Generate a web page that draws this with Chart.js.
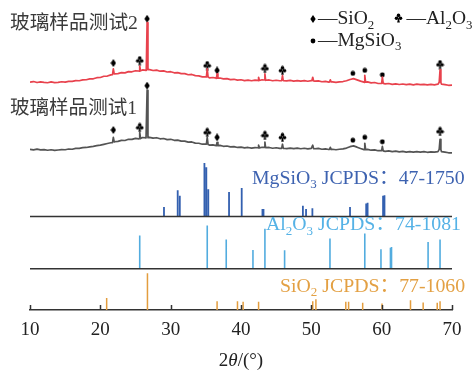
<!DOCTYPE html>
<html><head><meta charset="utf-8">
<style>html,body{margin:0;padding:0;background:#fff;}#wrap{width:474px;height:372px;}</style>
<script src="https://cdn.jsdelivr.net/npm/chart.js@4.4.1/dist/chart.umd.min.js"></script>
</head><body><div id="wrap"><canvas id="c" width="474" height="372"></canvas></div>
<script>
// ---------- data ----------
const tickValues = [10, 20, 30, 40, 50, 60, 70];
const tickLabels = ['10', '20', '30', '40', '50', '60', '70'];
const gridStart = 10, gridStep = 0.5; // 2θ sampling of background arrays (10 … 70)

// background intensity (a.u.) of sample 2 (red) every 0.5°
const redBackground = [
 13.5,14.2,13.2,13.9,13.4,13.0,13.8,13.1,13.3,14.0,13.6,14.4,14.3,15.1,15.0,15.9,16.0,16.9,17.0,18.1,
 18.3,19.6,19.8,21.0,22.0,22.3,23.2,23.0,24.3,24.1,25.2,24.8,26.0,25.6,26.3,25.4,25.8,24.7,25.0,23.9,
 24.2,23.1,23.3,22.2,22.3,21.1,21.4,20.2,20.0,19.0,19.1,18.0,18.3,17.4,17.8,16.9,17.2,16.2,16.5,15.7,
 16.0,15.2,15.7,15.0,15.6,15.2,16.0,15.4,15.8,15.0,15.5,15.0,15.4,14.8,15.3,14.7,15.2,14.6,15.1,14.5,
 15.1,14.6,14.9,14.0,14.3,13.6,13.9,13.4,13.9,14.2,15.0,16.3,17.2,15.9,14.6,13.4,13.8,12.8,13.2,12.2,
 12.5,11.8,12.2,11.4,11.9,11.2,11.7,11.0,11.5,10.9,11.5,11.0,11.4,10.8,11.4,10.9,11.5,11.6,11.0,10.4,
 10.6];
// background intensity of sample 1 (gray)
const grayBackground = [
 13.2,12.8,13.5,12.7,13.0,12.4,12.9,12.2,12.6,13.0,12.9,13.6,13.4,14.3,14.2,15.0,15.2,15.8,16.3,17.0,
 17.6,18.4,19.2,20.0,21.0,21.4,22.4,22.3,23.5,23.4,24.5,24.1,25.3,24.9,25.5,24.7,25.1,24.0,24.3,23.2,
 23.5,22.5,22.6,21.6,21.7,20.6,20.8,19.6,19.5,18.5,18.6,17.6,17.9,17.0,17.3,16.4,16.7,15.8,16.0,15.2,
 15.5,14.8,15.2,14.5,15.1,14.7,15.4,14.9,15.2,14.4,14.9,14.3,14.7,14.1,14.6,14.0,14.5,13.9,14.4,13.8,
 14.3,13.9,14.2,13.4,13.7,13.1,13.4,12.9,13.4,13.8,14.6,16.0,16.8,15.5,14.1,13.0,13.3,12.4,12.8,11.9,
 12.1,11.3,11.7,10.9,11.4,10.7,11.2,10.5,11.0,10.4,10.9,10.5,10.9,10.3,10.8,10.4,11.0,11.0,10.4,9.8,
 9.6];
// sharp diffraction peaks [2θ, intensity]
const redPeaks = [
 [21.73,21.2],[21.85,27.0],[21.97,21.9],
 [25.48,24.9],[25.60,30.0],[25.72,25.1],
 [26.53,25.8],[26.65,74.0],[26.77,26.2],
 [35.08,18.9],[35.20,27.0],[35.32,18.7],
 [36.48,17.6],[36.60,22.0],[36.72,17.6],
 [42.38,15.4],[42.50,18.5],[42.62,15.3],
 [43.28,15.8],[43.40,22.0],[43.52,15.5],
 [45.78,15.1],[45.90,20.3],[46.02,15.2],
 [50.08,15.0],[50.20,18.5],[50.32,14.9],
 [52.58,13.8],[52.70,16.0],[52.82,13.8],
 [57.48,13.6],[57.60,20.5],[57.72,13.5],
 [59.98,12.4],[60.10,18.7],[60.22,12.3],
 [68.18,13.5],[68.30,26.0],[68.42,13.3]];
const grayPeaks = [
 [21.73,20.0],[21.85,25.5],[21.97,20.8],
 [25.48,24.0],[25.60,30.5],[25.72,24.2],
 [26.53,24.9],[26.65,73.3],[26.77,25.2],
 [35.08,18.5],[35.20,25.5],[35.32,18.2],
 [36.48,17.1],[36.60,20.5],[36.72,17.0],
 [42.38,14.9],[42.50,17.5],[42.62,14.8],
 [43.28,15.2],[43.40,20.7],[43.52,15.0],
 [45.78,14.3],[45.90,18.5],[46.02,14.4],
 [50.08,14.3],[50.20,17.5],[50.32,14.1],
 [52.58,13.2],[52.70,15.3],[52.82,13.1],
 [57.48,13.0],[57.60,19.5],[57.72,12.9],
 [59.98,12.0],[60.10,16.3],[60.22,11.8],
 [68.18,13.2],[68.30,23.5],[68.42,13.0]];

// phase markers above peaks: kind, 2θ, height (a.u., relative to the pattern)
const markerKinds = ['d','c','d','c','d','c','c','o','o','o','c'];
const markerPos   = [21.85,25.6,26.65,35.2,36.6,43.4,45.9,55.9,57.6,60.1,68.3];
const markerY     = [33.0,35.5,78.0,30.5,25.5,27.5,25.5,22.5,25.5,21.0,31.5];

// reference stick patterns (2θ, relative intensity)
const mgPos = [29.05,31.0,31.3,34.8,35.07,35.35,38.3,40.1,43.05,43.2,48.8,49.25,50.15,55.5,57.8,58.0,60.2,60.4];
const mgInt = [9.7,26.7,21,54.3,50,27.7,25,29,7.7,7.7,11,7.7,8.3,9.7,13.3,14,21,21.7];
const alPos = [25.6,35.2,37.9,41.7,43.4,46.2,52.65,57.6,59.9,61.25,61.4,66.6,68.3];
const alInt = [33.7,44,29.7,19,40.7,18.7,30.7,35.7,19.7,21.3,22,27,29.7];
const siPos = [20.9,26.7,36.6,39.5,40.3,42.5,50.2,50.65,54.9,55.3,57.3,60.05,64.1,65.9,67.9,68.3];
const siInt = [12.3,37.3,9,9,8.3,8.3,9,11,8.3,8.3,7.3,6.7,10,7.7,7.3,9];

// ---------- layout (vertical stacking offsets) ----------
const OFF = {si: 0, al: 42, mg: 95, gray: 150, red: 218};
const COL = {red:'#e8424d', gray:'#545454', mg:'#3360b0', al:'#52acdf', si:'#e39d3e', axis:'#333333'};

function curve(bg, peaks, off){
  const pts = bg.map((v,i)=>({x: gridStart + i*gridStep, y: v + off}));
  peaks.forEach(p=>pts.push({x:p[0], y:p[1] + off}));
  pts.sort((a,b)=>a.x-b.x);
  return pts;
}
function sticks(pos, ints, base){
  const pts = [];
  pos.forEach((p,i)=>{ pts.push({x:p,y:base}); pts.push({x:p,y:base+ints[i]}); pts.push({x:p,y:null}); });
  return pts;
}
function baseLine(base){ return [{x:10,y:base},{x:70,y:base}]; }

// marker glyph images
function mk(w,h,fn){ const c=document.createElement('canvas'); c.width=w; c.height=h; const g=c.getContext('2d'); g.fillStyle='#000'; fn(g); return c; }
const clubImg = mk(9,10,g=>{
  g.beginPath(); g.arc(4.5,2.4,1.8,0,Math.PI*2); g.fill();
  g.beginPath(); g.arc(2.5,5.2,1.8,0,Math.PI*2); g.fill();
  g.beginPath(); g.arc(6.5,5.2,1.8,0,Math.PI*2); g.fill();
  g.beginPath(); g.moveTo(4.5,4); g.lineTo(3.1,9.5); g.lineTo(5.9,9.5); g.closePath(); g.fill();
});
const diaImg = mk(6,8,g=>{ g.beginPath(); g.moveTo(3,0); g.lineTo(5.7,4); g.lineTo(3,8); g.lineTo(0.3,4); g.closePath(); g.fill(); });
const dotImg = mk(6,6,g=>{ g.beginPath(); g.arc(3,3,2.4,0,Math.PI*2); g.fill(); });
const imgFor = {c: clubImg, d: diaImg, o: dotImg};

function markerSet(kind, off){
  const d=[]; markerKinds.forEach((k,i)=>{ if(k===kind) d.push({x:markerPos[i], y:markerY[i]+off}); });
  return {data:d, showLine:false, pointStyle:imgFor[kind], pointRadius:4, pointHoverRadius:4, order:0};
}
function lineSet(data, color, width){
  return {data, showLine:true, borderColor:color, borderWidth:width, pointRadius:0, pointHoverRadius:0, tension:0, spanGaps:false, fill:false, borderCapStyle:'butt', borderJoinStyle:'round'};
}

const datasets = [
  lineSet(baseLine(OFF.al), COL.axis, 1.5),
  lineSet(baseLine(OFF.mg), COL.axis, 1.5),
  lineSet(sticks(siPos, siInt, OFF.si), COL.si, 1.5),
  lineSet(sticks(alPos, alInt, OFF.al), COL.al, 1.6),
  lineSet(sticks(mgPos, mgInt, OFF.mg), COL.mg, 1.8),
  lineSet(curve(grayBackground, grayPeaks, OFF.gray), COL.gray, 1.7),
  lineSet(curve(redBackground, redPeaks, OFF.red), COL.red, 1.7),
];
['d','c','o'].forEach(k=>{ datasets.push(markerSet(k, OFF.red)); datasets.push(markerSet(k, OFF.gray)); });

// ---------- text helpers ----------
const SERIF = '"Liberation Serif","Noto Sans CJK SC",serif';
function rich(ctx, parts, x, y, size, color){
  ctx.save(); ctx.fillStyle=color; ctx.textBaseline='alphabetic'; ctx.textAlign='left';
  let cx=x;
  parts.forEach(p=>{
    const t=p[0], sub=p[1]===1, it=p[1]===2;
    const fs = sub ? size*0.66 : size;
    ctx.font = (it?'italic ':'') + fs + 'px ' + SERIF;
    ctx.fillText(t, cx, y + (sub ? size*0.24 : 0));
    cx += ctx.measureText(t).width;
  });
  ctx.restore();
  return cx;
}
function fitText(ctx, text, x, y, targetW, color){
  ctx.save(); ctx.font='19px '+SERIF;
  const m = ctx.measureText(text).width;
  const fs = 19 * targetW / m;
  ctx.font = fs.toFixed(2)+'px '+SERIF; ctx.fillStyle=color; ctx.textBaseline='alphabetic';
  ctx.fillText(text, x, y);
  ctx.restore();
}

const decor = {
  id:'decor',
  afterDraw(chart){
    const ctx=chart.ctx, xs=chart.scales.x, ca=chart.chartArea;
    // inward ticks
    ctx.save(); ctx.strokeStyle=COL.axis; ctx.lineWidth=1.5;
    tickValues.forEach(v=>{ const px=Math.round(xs.getPixelForValue(v))+0.5; ctx.beginPath(); ctx.moveTo(px, ca.bottom); ctx.lineTo(px, ca.bottom-5); ctx.stroke(); });
    ctx.restore();
    // sample labels
    fitText(ctx, '玻璃样品测试2', 10, 28.5, 128, '#3a3a3a');
    fitText(ctx, '玻璃样品测试1', 10, 113.5, 127, '#3a3a3a');
    // legend
    ctx.drawImage(diaImg, 310, 15);
    rich(ctx, [['—SiO',0],['2',1]], 318, 24, 19.5, '#222');
    ctx.drawImage(clubImg, 394, 13);
    rich(ctx, [['—Al',0],['2',1],['O',0],['3',1]], 406.5, 24, 19.5, '#222');
    ctx.drawImage(dotImg, 310, 38);
    rich(ctx, [['—MgSiO',0],['3',1]], 318, 45.5, 19.5, '#222');
    // reference labels
    rich(ctx, [['MgSiO',0],['3',1],[' JCPDS：47-1750',0]], 252, 183.5, 19.8, '#3d62b0');
    rich(ctx, [['Al',0],['2',1],['O',0],['3',1],[' JCPDS：74-1081',0]], 266, 230, 19.8, '#55b2e6');
    rich(ctx, [['SiO',0],['2',1],[' JCPDS：77-1060',0]], 280, 291.5, 19.8, '#e3a043');
    // axis title
    ctx.save(); ctx.font='19px '+SERIF; let w=ctx.measureText('2/(°)').width; ctx.font='italic 19px '+SERIF; w+=ctx.measureText('θ').width; ctx.restore();
    const tx = (ca.left+ca.right)/2 - w/2;
    rich(ctx, [['2',0],['θ',2],['/(°)',0]], tx, 366, 19, '#222');
  }
};

new Chart(document.getElementById('c'), {
  type:'scatter',
  data:{datasets},
  options:{
    responsive:false, animation:false, devicePixelRatio:1,
    layout:{padding:{left:30, right:22, top:0, bottom:0}},
    plugins:{legend:{display:false}, tooltip:{enabled:false}},
    scales:{
      x:{type:'linear', min:10, max:70,
         afterFit(s){ s.height = 62; },
         afterBuildTicks(s){ s.ticks = tickValues.map(v=>({value:v})); },
         ticks:{callback:(v)=>tickLabels[tickValues.indexOf(v)] ?? '', font:{family:'Liberation Serif', size:19}, color:'#222', padding:9, maxRotation:0, autoSkip:false},
         grid:{display:true, drawOnChartArea:false, drawTicks:false},
         border:{display:true, color:COL.axis, width:1.5}},
      y:{type:'linear', min:0, max:310, display:false}
    }
  },
  plugins:[decor]
});
</script></body></html>
